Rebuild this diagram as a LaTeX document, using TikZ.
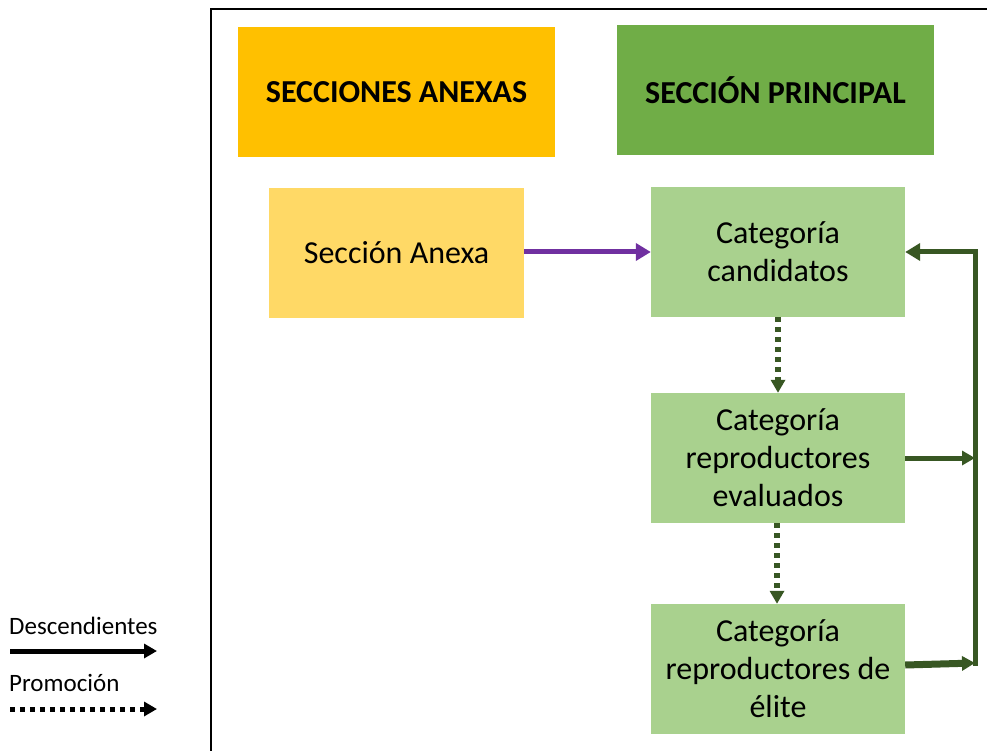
\documentclass[tikz,border=0pt]{standalone}
\usepackage{fontspec}
\setmainfont{Carlito}
\usetikzlibrary{arrows.meta}
\definecolor{anexHead}{HTML}{FFC000}
\definecolor{mainHead}{HTML}{70AD47}
\definecolor{anexBox}{HTML}{FFD966}
\definecolor{catBox}{HTML}{A9D18E}
\definecolor{darkGreen}{HTML}{385723}
\definecolor{purpleArr}{HTML}{7030A0}
\tikzset{
  headbox/.style={minimum width=317pt, minimum height=130pt, inner sep=0pt, font=\fontsize{32}{38}\selectfont\bfseries, align=center},
  catnode/.style={fill=catBox, minimum width=254pt, minimum height=130pt, inner sep=0pt, font=\fontsize{32}{38}\selectfont, align=center},
  tipA/.style={-{Triangle[length=15pt,width=17pt]}},
  tipS/.style={-{Triangle[length=13pt,width=14pt]}},
  promo/.style={draw=darkGreen, line width=5.5pt, dash pattern=on 5pt off 5pt, tipS},
  desc/.style={draw=darkGreen, line width=5pt},
  legtext/.style={font=\fontsize{25}{30}\selectfont, anchor=west, inner sep=0pt}
}
\begin{document}
\begin{tikzpicture}[x=1pt,y=-1pt]
\useasboundingbox (0,0) rectangle (987,751);
% frame
\draw[black, line width=2pt] (211,760) -- (211,9) -- (995,9);
% headers
\node[headbox, fill=anexHead] (hA) at (396.5,92) {SECCIONES ANEXAS};
\node[headbox, fill=mainHead] (hP) at (775.5,90) {SECCIÓN PRINCIPAL};
% boxes
\node[catnode, fill=anexBox, minimum width=255pt] (anexa) at (396.5,253) {Sección Anexa};
\node[catnode] (cand) at (778,252) {Categoría\\candidatos};
\node[catnode] (eval) at (778,458) {Categoría\\reproductores\\evaluados};
\node[catnode] (elite) at (778,669) {Categoría\\reproductores de\\élite};
% purple arrow
\draw[purpleArr, line width=5pt, tipA] (anexa.east |- 0,252) -- (cand.west |- 0,252);
% promotion arrows
\draw[promo] (cand.south) -- (eval.north);
\draw[promo] ([xshift=-1pt]eval.south) -- ([xshift=-1pt]elite.north);
% descendant loop
\coordinate (rtop) at (975,252);
\coordinate (rmid) at (975,458);
\coordinate (rbot) at (975,663);
\draw[desc, line cap=rect] (rbot) -- (rtop);
\draw[desc, tipA] (rtop) -- (cand.east |- rtop);
\draw[desc, tipS] (eval.east |- rmid) -- (rmid);
\draw[darkGreen, line width=7pt, tipS] (elite.east |- 0,665) -- (rbot);
% legend
\node[legtext] (ldesc) at (9,626) {Descendientes};
\coordinate (l1a) at (10,651);
\coordinate (l1b) at (157,651);
\draw[black, line width=5pt, tipS] (l1a) -- (l1b);
\node[legtext] (lpromo) at (9,683) {Promoción};
\coordinate (l2a) at (10,709);
\coordinate (l2b) at (157,709);
\draw[black, line width=5pt, dash pattern=on 5pt off 5pt, tipS] (l2a) -- (l2b);
\end{tikzpicture}
\end{document}
